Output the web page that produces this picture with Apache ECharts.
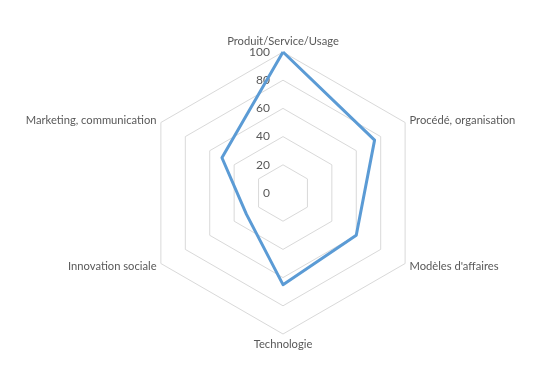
<!DOCTYPE html>
<html>
<head>
<meta charset="utf-8">
<script src="https://cdn.jsdelivr.net/npm/echarts@6/dist/echarts.min.js"></script>
<style>
  html, body { margin: 0; padding: 0; background: #fff; }
  #chart { width: 550px; height: 377px; }
</style>
</head>
<body>
<div id="chart"></div>
<script>
// axes of the radar, clockwise from the top
var categories = ['Produit/Service/Usage', 'Procédé, organisation', "Modèles d'affaires",
  'Technologie', 'Innovation sociale', 'Marketing, communication'];
var values = [100, 75, 60, 65, 30, 50];
var tickLabels = [0, 20, 40, 60, 80, 100];

// echarts lays out radar indicators counter-clockwise, so flip the order (keep first on top)
function ccw(arr) {
  return [arr[0]].concat(arr.slice(1).reverse());
}

var chart = echarts.init(document.getElementById('chart'), null, { renderer: 'canvas' });
var font = 'Lato, "Open Sans", sans-serif';

var option = {
  backgroundColor: '#fff',
  animation: false,
  radar: {
    center: [283, 193],
    radius: 141,
    startAngle: 90,
    shape: 'polygon',
    splitNumber: tickLabels.length - 1,
    indicator: ccw(categories).map(function (c) {
      return { name: c, min: tickLabels[0], max: tickLabels[tickLabels.length - 1] };
    }),
    nameGap: 5,
    axisName: { color: '#595959', fontSize: 11.2, fontFamily: font },
    axisLine: { show: false },
    axisTick: { show: false },
    axisLabel: { show: false },
    splitArea: { show: false },
    splitLine: { lineStyle: { color: '#d9d9d9', width: 1 } }
  },
  // polar only used to draw the value labels along the top axis
  polar: { center: [283, 193], radius: 141 },
  angleAxis: {
    startAngle: 90, min: 0, max: 360, show: false
  },
  radiusAxis: {
    min: tickLabels[0],
    max: tickLabels[tickLabels.length - 1],
    interval: 20,
    axisLine: { show: false },
    axisTick: { show: false },
    splitLine: { show: false },
    axisLabel: { color: '#595959', fontSize: 12, fontFamily: font, margin: 13 }
  },
  series: [{
    type: 'radar',
    symbol: 'none',
    lineStyle: { color: '#5b9bd5', width: 3 },
    data: [{ value: ccw(values) }]
  }]
};
chart.setOption(option);
</script>
</body>
</html>
